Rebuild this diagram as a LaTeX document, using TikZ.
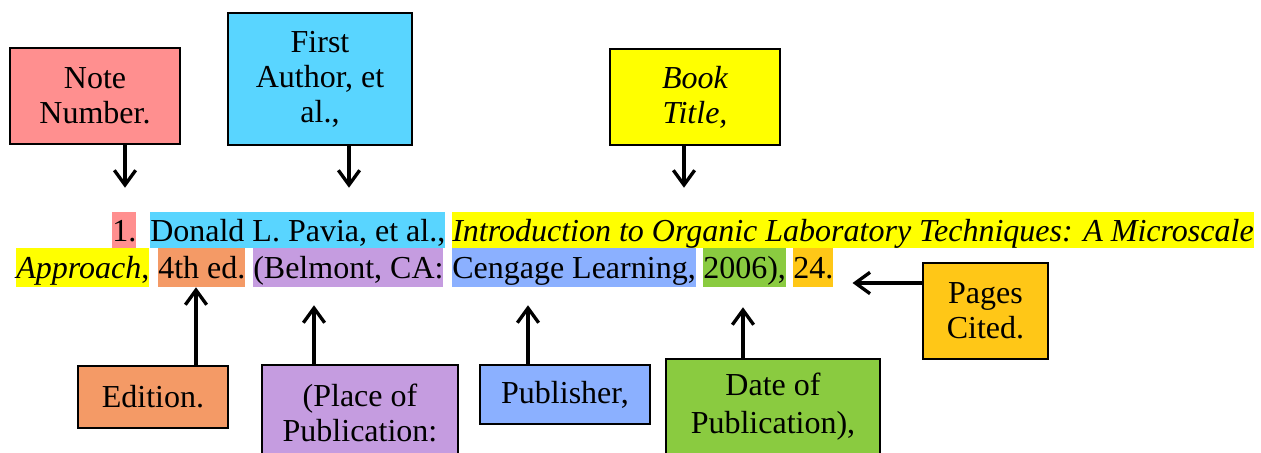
\documentclass[tikz,border=0pt]{standalone}
\usepackage{fontspec}
\setmainfont{Liberation Serif}
\usetikzlibrary{arrows.meta}
\definecolor{notec}{RGB}{255,143,143}
\definecolor{authc}{RGB}{89,213,255}
\definecolor{titlec}{RGB}{255,255,0}
\definecolor{edc}{RGB}{244,154,102}
\definecolor{placec}{RGB}{197,156,224}
\definecolor{pubc}{RGB}{139,176,255}
\definecolor{datec}{RGB}{138,203,64}
\definecolor{pagec}{RGB}{255,199,23}
\begin{document}
\begin{tikzpicture}[x=0.75pt,y=-0.75pt,
  lbl/.style={draw=black, line width=1.5pt, align=center, inner sep=0pt,
    font=\fontsize{24}{26.25}\selectfont},
  hlA/.style={anchor=base west, inner sep=0pt, text height=21.75pt, text depth=5.25pt,
    font=\fontsize{24}{26.25}\selectfont},
  hlB/.style={anchor=base west, inner sep=0pt, text height=22.5pt, text depth=6.75pt,
    font=\fontsize{24}{26.25}\selectfont},
  arr/.style={-{Straight Barb[length=11pt,width=16pt]}, line width=2.5pt}
]
\useasboundingbox (0,0) rectangle (1261,453);
\clip (0,0) rectangle (1261,453);
\fill[white] (0,0) rectangle (1261,453);

% highlighted citation text
\node[hlA, fill=notec]  (h1) at (112,241) {1.};
\node[hlA, fill=authc]  (h2) at (150,241) {Donald L. Pavia, et al.,};
\node[hlA, fill=titlec] (h3) at (452,241) {\itshape Introduction to Organic Laboratory Techniques: A Microscale};
\node[hlB, fill=titlec] (h4) at (16,278) {\itshape Approach\upshape,};
\node[hlB, fill=edc]    (h5) at (158,278) {4th ed.};
\node[hlB, fill=placec] (h6) at (253,278) {(Belmont, CA:};
\node[hlB, fill=pubc]   (h7) at (452,278) {Cengage Learning,};
\node[hlB, fill=datec]  (h8) at (703,278) {2006),};
\node[hlB, fill=pagec]  (h9) at (793,278) {24.};

% label boxes
\node[lbl, fill=notec,  minimum width=127.5pt, minimum height=72pt]   (note)  at (95,96)    {Note\\Number.};
\node[lbl, fill=authc,  minimum width=138pt,   minimum height=99pt]   (fa)    at (320,79)   {First\\Author, et\\al.,};
\node[lbl, fill=titlec, minimum width=127.5pt, minimum height=72pt]   (book)  at (695,97)   {\itshape Book\\\itshape Title,};
\node[lbl, fill=edc,    minimum width=112.5pt, minimum height=46.5pt] (ed)    at (153,397)  {Edition.};
\node[lbl, fill=placec, minimum width=147pt,   minimum height=72pt]   (place) at (360,413)  {(Place of\\Publication:};
\node[lbl, fill=pubc,   minimum width=127.5pt, minimum height=44.25pt](pub)   at (565,394.5){Publisher,};
\node[lbl, fill=datec,  minimum width=160.5pt, minimum height=72pt, font=\fontsize{24}{28.5}\selectfont] (date) at (773,407) {Date of\\Publication),};
\node[lbl, fill=pagec,  minimum width=93.75pt, minimum height=72pt]   (pages) at (985.5,311){Pages\\Cited.};

% arrows
\draw[arr, shorten >=18pt] (125,0 |- note.south) -- (125,0 |- h1.north);
\draw[arr, shorten >=18pt] (349,0 |- fa.south) -- (349,0 |- h2.north);
\draw[arr, shorten >=18pt] (684,0 |- book.south) -- (684,0 |- h3.north);
\draw[arr] (196,0 |- ed.north) -- (196,0 |- h5.south);
\draw[arr, shorten >=13.5pt] (314,0 |- place.north) -- (314,0 |- h6.south);
\draw[arr, shorten >=13.5pt] (528,0 |- pub.north) -- (528,0 |- h7.south);
\draw[arr, shorten >=15pt] (743,0 |- date.north) -- (743,0 |- h8.south);
\draw[arr, shorten >=14.25pt] (pages.west |- 0,283) -- (h9.east |- 0,283);
\end{tikzpicture}
\end{document}
